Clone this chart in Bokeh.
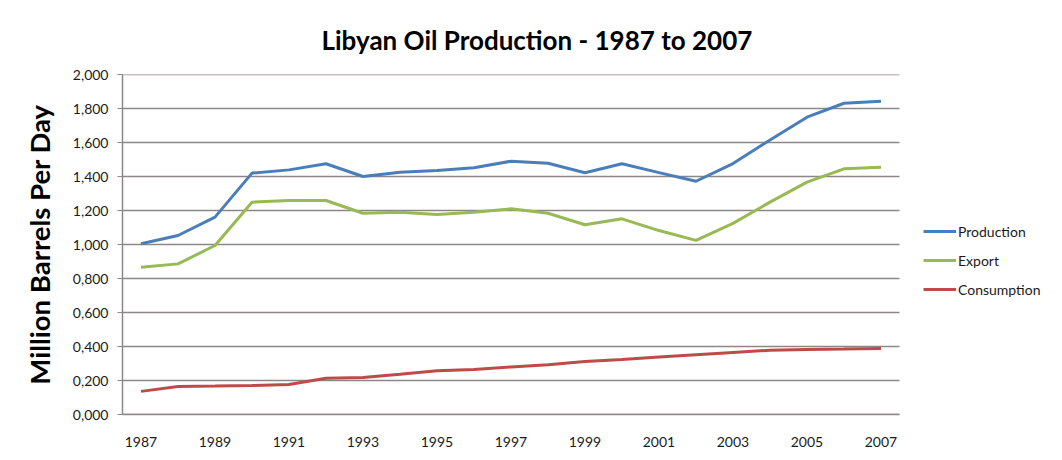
from bokeh.plotting import figure
from bokeh.models import Range1d, FixedTicker, Legend, LegendItem
from bokeh.embed import file_html
from bokeh.resources import INLINE

years = list(range(1987, 2008))
production = [1004, 1053, 1161, 1420, 1439, 1475, 1400, 1425, 1435, 1451, 1490,
              1478, 1422, 1475, 1423, 1372, 1476, 1615, 1749, 1831, 1843]
export = [866, 886, 994, 1249, 1259, 1259, 1184, 1190, 1176, 1190, 1210,
          1184, 1116, 1151, 1082, 1024, 1124, 1249, 1367, 1445, 1455]
consumption = [136, 165, 167, 170, 176, 213, 218, 237, 257, 265, 280,
               293, 312, 323, 338, 352, 365, 378, 383, 385, 388]
y_ticks = [0, 200, 400, 600, 800, 1000, 1200, 1400, 1600, 1800, 2000]
y_tick_labels = ["0,000", "0,200", "0,400", "0,600", "0,800", "1,000",
                 "1,200", "1,400", "1,600", "1,800", "2,000"]
x_ticks = list(range(1987, 2008, 2))
title_text = "Libyan Oil Production - 1987 to 2007"
series_names = ["Production", "Export", "Consumption"]
colors = ["#4a7ebb", "#98b954", "#be4b48"]

FONT = "Lato"
GRID = "#8e8686"

# data extent of the plotting area
x_lo, x_hi = years[0] - 0.5, years[-1] + 0.5
y_lo, y_hi = y_ticks[0], y_ticks[-1]

# frame is widened to the right to host the legend (which would otherwise be clipped)
PX_X = 37.0   # pixels per year
FRAME_L, FRAME_R, FRAME_T, FRAME_B = 122, 1052, 74, 414
x_end = x_lo + (FRAME_R - FRAME_L) / PX_X

p = figure(width=1062, height=460, output_backend="svg", toolbar_location=None,
           x_range=Range1d(x_lo, x_end), y_range=Range1d(y_lo, y_hi),
           min_border_left=FRAME_L, min_border_right=1062 - FRAME_R,
           min_border_top=FRAME_T, min_border_bottom=460 - FRAME_B)
p.outline_line_color = None
p.background_fill_color = "white"
p.border_fill_color = "white"
p.xgrid.grid_line_color = None
p.ygrid.grid_line_color = None

# title
p.title.text = title_text
p.title.align = "left"
p.title.offset = 199
p.title.standoff = 38
p.title.text_font = FONT
p.title.text_font_style = "bold"
p.title.text_font_size = "26px"
p.title.text_color = "black"

# horizontal gridlines limited to the data area
p.segment(x0=[x_lo] * len(y_ticks), x1=[x_hi] * len(y_ticks), y0=y_ticks, y1=y_ticks,
          line_color=GRID, line_width=1.5)

# y axis
p.yaxis.ticker = FixedTicker(ticks=y_ticks)
p.yaxis.major_label_overrides = {t: l for t, l in zip(y_ticks, y_tick_labels)}
p.yaxis.axis_line_color = GRID
p.yaxis.axis_line_width = 1.5
p.yaxis.major_tick_line_color = GRID
p.yaxis.major_tick_out = 5
p.yaxis.major_tick_in = 0
p.yaxis.minor_tick_line_color = None
p.yaxis.major_label_text_font = FONT
p.yaxis.major_label_text_font_size = "14px"
p.yaxis.major_label_text_color = "#1a1a1a"
p.yaxis.major_label_standoff = 9
p.yaxis.axis_label = "Million Barrels Per Day"
p.yaxis.axis_label_text_font = FONT
p.yaxis.axis_label_text_font_style = "bold"
p.yaxis.axis_label_text_font_size = "27.5px"
p.yaxis.axis_label_text_color = "black"
p.yaxis.axis_label_standoff = 14

# x axis
p.xaxis.bounds = (x_lo, x_hi)
p.xaxis.ticker = FixedTicker(ticks=x_ticks)
p.xaxis.axis_line_color = GRID
p.xaxis.axis_line_width = 1.5
p.xaxis.major_tick_line_color = None
p.xaxis.minor_tick_line_color = None
p.xaxis.major_label_text_font = FONT
p.xaxis.major_label_text_font_size = "14px"
p.xaxis.major_label_text_color = "#1a1a1a"
p.xaxis.major_label_standoff = 16

renderers = []
for vals, c in zip([production, export, consumption], colors):
    r = p.line(years, vals, line_color=c, line_width=3)
    renderers.append(r)

legend = Legend(items=[LegendItem(label=n, renderers=[r]) for n, r in zip(series_names, renderers)],
                location=(796, 110))
legend.label_text_font = FONT
legend.label_text_font_size = "14px"
legend.label_text_color = "#1a1a1a"
legend.glyph_width = 33
legend.glyph_height = 20
legend.label_height = 20
legend.spacing = 9
legend.label_standoff = 2
legend.padding = 5
legend.margin = 0
legend.border_line_alpha = 0
legend.background_fill_alpha = 0
p.add_layout(legend)

open("out.html", "w").write(file_html(p, INLINE))
